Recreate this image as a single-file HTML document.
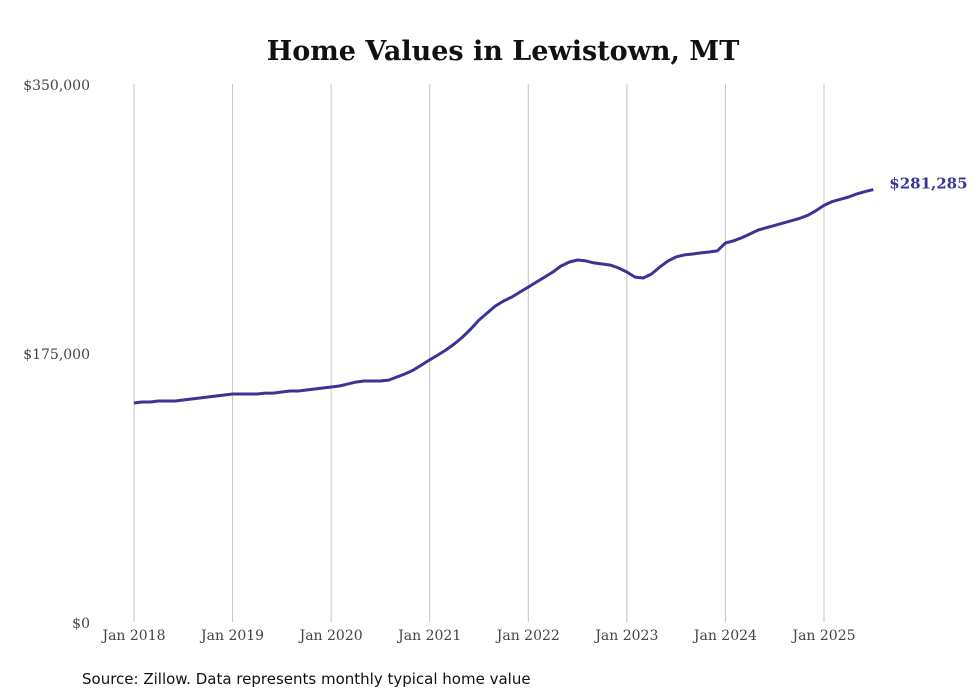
<!DOCTYPE html>
<html><head><meta charset="utf-8"><style>
body{margin:0;background:#fff;}
svg{display:block;}
</style></head><body>
<svg id="chart" width="980" height="699" xmlns="http://www.w3.org/2000/svg">
<rect width="980" height="699" fill="#fff"/>
<text x="503" y="60" text-anchor="middle" font-family="DejaVu Serif, serif" font-weight="bold" font-size="27" fill="#111">Home Values in Lewistown, MT</text>
<g id="grid"></g>
<g id="yticks"></g>
<g id="xticks"></g>
<path id="line" fill="none" stroke="#3b3494" stroke-width="3" stroke-linejoin="round"/>
<text id="endlabel" font-family="DejaVu Serif, serif" font-weight="bold" font-size="15" fill="#3b3494"></text>
<text x="82" y="684" font-family="DejaVu Sans, sans-serif" font-size="15" fill="#111">Source: Zillow. Data represents monthly typical home value</text>
</svg>
<script>
const startYear = 2018;
const values = [
142500,143100,143100,143800,143800,143800,144400,145100,145700,146400,147000,147700,
148300,148300,148300,148300,148900,148900,149600,150300,150300,150900,151600,152200,
152900,153500,154800,156100,156800,156800,156800,157400,159400,161400,163900,167200,
170500,173700,177000,180900,185400,190600,196500,201000,205600,208800,211400,214700,
217900,221200,224400,227700,231600,234200,235500,234900,233600,232900,232200,230300,
227700,224400,223800,226400,230900,234800,237500,238800,239400,240100,240700,241400,
242700,244000,245900,248500,251100,253100,254400,255700,257000,258300,259600,261500,
246500,248000,250000,252500,255000,256500,258000,259500,261000,262500,264500,267500,
271000,273500,275000,276500,278500,280000,281285];
const yTicks = [0,175000,350000];
const yTickLabels = ["$0","$175,000","$350,000"];
const xTickYears = [2018,2019,2020,2021,2022,2023,2024,2025];
const endLabel = "$281,285";

// remove accidental duplicate 2023 row handling: values above are 2018..2025 monthly
values.splice(72,12);

const NS="http://www.w3.org/2000/svg";
const x0=134, pxPerYear=98.57, yBase=622, yTop=84, yMax=350000;
const xScale = m => x0 + m*pxPerYear/12;
const yScale = v => yBase - v/yMax*(yBase-yTop);

const grid=document.getElementById('grid'), xt=document.getElementById('xticks'), yt=document.getElementById('yticks');
xTickYears.forEach(yr=>{
  const x=xScale((yr-startYear)*12);
  const l=document.createElementNS(NS,'line');
  l.setAttribute('x1',x);l.setAttribute('x2',x);l.setAttribute('y1',yTop);l.setAttribute('y2',yBase);
  l.setAttribute('stroke','#c4c4c4');l.setAttribute('stroke-width','1');
  
  
  grid.appendChild(l);
  const t=document.createElementNS(NS,'text');
  t.setAttribute('x',x);t.setAttribute('y',640);t.setAttribute('text-anchor','middle');
  t.setAttribute('font-family','DejaVu Serif, serif');t.setAttribute('font-size','14');t.setAttribute('fill','#444');
  t.textContent='Jan '+yr;
  
  
  xt.appendChild(t);
});
yTicks.forEach((v,i)=>{
  const t=document.createElementNS(NS,'text');
  t.setAttribute('x',90);t.setAttribute('y',yScale(v)+6);t.setAttribute('text-anchor','end');
  t.setAttribute('font-family','DejaVu Serif, serif');t.setAttribute('font-size','14');t.setAttribute('fill','#444');
  t.textContent=yTickLabels[i];
  
  
  yt.appendChild(t);
});
let d='';
values.forEach((v,i)=>{d+=(i?'L':'M')+xScale(i).toFixed(1)+' '+yScale(v).toFixed(1);});
document.getElementById('line').setAttribute('d',d);
const last=values.length-1;
const el=document.getElementById('endlabel');
el.setAttribute('x',xScale(last)+16);el.setAttribute('y',yScale(values[last])-1);
el.textContent=endLabel;
</script>
</body></html>
